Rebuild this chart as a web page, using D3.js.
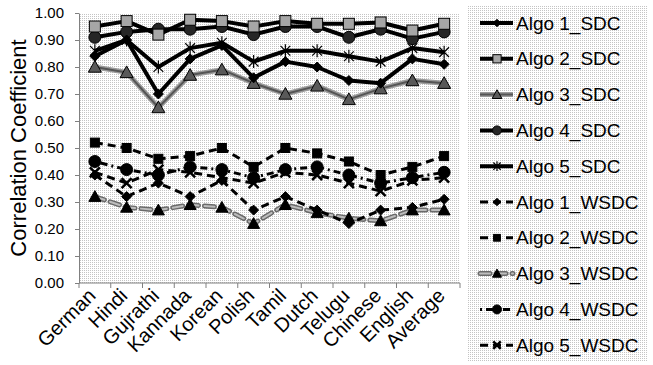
<!DOCTYPE html>
<html>
<head>
<meta charset="utf-8">
<script src="https://d3js.org/d3.v7.min.js"></script>
<style>
  body { margin: 0; background: #fff; }
  text { font-family: "Liberation Sans", Arial, sans-serif; }
</style>
</head>
<body>
<div id="chart"></div>
<script>
// categories and series values
var categories = ["German", "Hindi", "Gujrathi", "Kannada", "Korean", "Polish",
                  "Tamil", "Dutch", "Telugu", "Chinese", "English", "Average"];

var algo1SDC  = [0.84, 0.90, 0.70, 0.83, 0.88, 0.76, 0.82, 0.80, 0.75, 0.74, 0.83, 0.81];
var algo2SDC  = [0.95, 0.97, 0.92, 0.975, 0.97, 0.95, 0.97, 0.96, 0.96, 0.965, 0.935, 0.96];
var algo3SDC  = [0.80, 0.78, 0.65, 0.77, 0.79, 0.74, 0.70, 0.73, 0.68, 0.72, 0.75, 0.74];
var algo4SDC  = [0.91, 0.93, 0.94, 0.94, 0.95, 0.92, 0.95, 0.95, 0.91, 0.94, 0.905, 0.93];
var algo5SDC  = [0.86, 0.90, 0.80, 0.87, 0.89, 0.82, 0.86, 0.86, 0.84, 0.82, 0.87, 0.855];

var algo1WSDC = [0.40, 0.32, 0.37, 0.32, 0.38, 0.27, 0.32, 0.27, 0.22, 0.27, 0.28, 0.31];
var algo2WSDC = [0.52, 0.50, 0.46, 0.47, 0.50, 0.43, 0.50, 0.48, 0.45, 0.40, 0.43, 0.47];
var algo3WSDC = [0.32, 0.28, 0.27, 0.29, 0.28, 0.22, 0.29, 0.26, 0.24, 0.23, 0.27, 0.27];
var algo4WSDC = [0.45, 0.42, 0.40, 0.43, 0.42, 0.39, 0.42, 0.43, 0.40, 0.37, 0.39, 0.41];
var algo5WSDC = [0.41, 0.37, 0.42, 0.41, 0.39, 0.37, 0.41, 0.40, 0.37, 0.34, 0.38, 0.39];

var yTicks = [0, 0.1, 0.2, 0.3, 0.4, 0.5, 0.6, 0.7, 0.8, 0.9, 1.0];

// how each series is drawn
var series = [
  {name: "Algo 1_SDC",  values: algo1SDC,  line: "#000", width: 4, marker: "diamond", size: 10, fill: "#000"},
  {name: "Algo 2_SDC",  values: algo2SDC,  line: "#000", width: 4, marker: "square", size: 11, fill: "#a6a6a6"},
  {name: "Algo 3_SDC",  values: algo3SDC,  line: "#555", width: 2, under: "#9a9a9a", marker: "triangle", size: 13, fill: "#595959"},
  {name: "Algo 4_SDC",  values: algo4SDC,  line: "#000", width: 4, marker: "circle", size: 12, fill: "#262626"},
  {name: "Algo 5_SDC",  values: algo5SDC,  line: "#000", width: 4, marker: "star", size: 13, fill: "none"},
  {name: "Algo 1_WSDC", values: algo1WSDC, line: "#000", width: 3, dash: "8,5", marker: "diamond", size: 10, fill: "#000"},
  {name: "Algo 2_WSDC", values: algo2WSDC, line: "#000", width: 3, dash: "8,5", marker: "square", size: 9, fill: "#000"},
  {name: "Algo 3_WSDC", values: algo3WSDC, line: "#bdbdbd", width: 2, under: "#6a6a6a", dash: "10,6", marker: "triangle", size: 12, fill: "#000"},
  {name: "Algo 4_WSDC", values: algo4WSDC, line: "#000", width: 3, dash: "2,4,7,4", marker: "circle", size: 12, fill: "#000"},
  {name: "Algo 5_WSDC", values: algo5WSDC, line: "#000", width: 3, dash: "8,5", marker: "x", size: 10, fill: "none"}
];

var W = 653, H = 365;
var plot = {left: 79, right: 460, top: 13, bottom: 283};

var svg = d3.select("#chart").append("svg")
    .attr("width", W)
    .attr("height", H);

// dotted background like the original
var defs = svg.append("defs");
var pat = defs.append("pattern")
    .attr("id", "dots")
    .attr("width", 2).attr("height", 2)
    .attr("patternUnits", "userSpaceOnUse");
pat.append("rect").attr("width", 2).attr("height", 2).attr("fill", "#fff");
pat.append("rect").attr("width", 1).attr("height", 1).attr("fill", "#c4c4c4");

var x = d3.scaleBand()
    .domain(categories)
    .range([plot.left, plot.right]);

var y = d3.scaleLinear()
    .domain([0, 1])
    .range([plot.bottom, plot.top]);

svg.append("rect")
    .attr("x", plot.left).attr("y", plot.top)
    .attr("width", plot.right - plot.left)
    .attr("height", plot.bottom - plot.top)
    .attr("fill", "url(#dots)");

// Y axis
var yAxis = svg.append("g")
    .attr("transform", "translate(" + plot.left + ",0)")
    .call(d3.axisLeft(y).tickValues(yTicks).tickFormat(d3.format(".2f")).tickSize(4).tickSizeOuter(0));
yAxis.attr("font-family", null).attr("font-size", null);
yAxis.select(".domain").attr("stroke", "#808080");
yAxis.selectAll(".tick line").attr("stroke", "#808080");
yAxis.selectAll(".tick text")
    .attr("font-size", 15)
    .attr("fill", "#000")
    .attr("x", -15);

// X axis: ticks on band edges
var xAxis = svg.append("g")
    .attr("transform", "translate(0," + plot.bottom + ")");
xAxis.append("line")
    .attr("x1", plot.left).attr("x2", plot.right)
    .attr("stroke", "#808080");
xAxis.selectAll("line.tk")
    .data(categories.concat(["end"]))
    .enter().append("line")
    .attr("class", "tk")
    .attr("x1", function(d, i) { return plot.left + i * x.bandwidth(); })
    .attr("x2", function(d, i) { return plot.left + i * x.bandwidth(); })
    .attr("y1", 0).attr("y2", 5)
    .attr("stroke", "#808080");
xAxis.selectAll("text")
    .data(categories)
    .enter().append("text")
    .attr("transform", function(d) {
        return "translate(" + (x(d) + x.bandwidth() / 2 + 2) + ",14) rotate(-45)";
    })
    .attr("text-anchor", "end")
    .attr("font-size", 20)
    .text(function(d) { return d; });

// Y axis title
svg.append("text")
    .attr("transform", "translate(26," + ((plot.top + plot.bottom) / 2) + ") rotate(-90)")
    .attr("text-anchor", "middle")
    .attr("font-size", 22)
    .text("Correlation Coefficient");

// marker drawing
function drawMarker(g, s) {
    var r = s.size / 2;
    if (s.marker === "circle") {
        g.append("circle").attr("r", r).attr("fill", s.fill).attr("stroke", "#000").attr("stroke-width", 1);
    } else if (s.marker === "square") {
        g.append("rect").attr("x", -r).attr("y", -r).attr("width", s.size).attr("height", s.size)
            .attr("fill", s.fill).attr("stroke", "#000").attr("stroke-width", 1);
    } else if (s.marker === "diamond") {
        g.append("path").attr("d", "M0," + (-r) + "L" + r + ",0L0," + r + "L" + (-r) + ",0Z")
            .attr("fill", s.fill).attr("stroke", "#000").attr("stroke-width", 1);
    } else if (s.marker === "triangle") {
        g.append("path").attr("d", "M0," + (-r) + "L" + r + "," + (r * 0.8) + "L" + (-r) + "," + (r * 0.8) + "Z")
            .attr("fill", s.fill).attr("stroke", "#000").attr("stroke-width", 1);
    } else if (s.marker === "star") {
        var a = r * 0.75;
        g.append("path")
            .attr("d", "M0," + (-r) + "V" + r + "M" + (-a) + "," + (-a) + "L" + a + "," + a + "M" + (-a) + "," + a + "L" + a + "," + (-a))
            .attr("stroke", "#000").attr("stroke-width", 1.2).attr("fill", "none");
    } else if (s.marker === "x") {
        g.append("path")
            .attr("d", "M" + (-r) + "," + (-r) + "L" + r + "," + r + "M" + (-r) + "," + r + "L" + r + "," + (-r))
            .attr("stroke", "#000").attr("stroke-width", 2.5).attr("fill", "none");
    }
}

function strokeLine(sel, s) {
    sel.attr("fill", "none").attr("stroke-linejoin", "round");
    if (s.under) {
        sel.clone()
            .attr("stroke", s.under)
            .attr("stroke-width", s.width + 3)
            .attr("stroke-dasharray", s.dash || null)
            .attr("stroke-linecap", s.dash ? "round" : "butt")
            .lower();
    }
    sel.attr("stroke", s.line)
        .attr("stroke-width", s.width)
        .attr("stroke-dasharray", s.dash || null)
        .attr("stroke-linecap", s.under && s.dash ? "round" : "butt");
}

var line = d3.line()
    .x(function(d, i) { return x(categories[i]) + x.bandwidth() / 2; })
    .y(function(d) { return y(d); });

var marks = svg.append("g");
series.slice().reverse().forEach(function(s) {
    var g = marks.append("g");
    var ln = g.append("g");
    strokeLine(ln.append("path").attr("d", line(s.values)), s);
    g.selectAll("g.pt")
        .data(s.values)
        .enter().append("g")
        .attr("class", "pt")
        .attr("transform", function(d, i) {
            return "translate(" + (x(categories[i]) + x.bandwidth() / 2) + "," + y(d) + ")";
        })
        .each(function() { drawMarker(d3.select(this), s); });
});

// legend
var legend = svg.append("g");
legend.append("rect")
    .attr("x", 468).attr("y", 5)
    .attr("width", 179).attr("height", 356)
    .attr("fill", "url(#dots)");

var rows = legend.selectAll("g.row")
    .data(series)
    .enter().append("g")
    .attr("class", "row")
    .attr("transform", function(d, i) { return "translate(0," + (23 + i * 35.8) + ")"; });

rows.each(function(s) {
    var g = d3.select(this);
    var ln = g.append("g");
    strokeLine(ln.append("line").attr("x1", 480).attr("x2", 513), s);
    var m = g.append("g").attr("transform", "translate(497,0)");
    drawMarker(m, {marker: s.marker, size: s.size * 0.75, fill: s.fill});
    g.append("text")
        .attr("x", 516)
        .attr("dy", "0.35em")
        .attr("font-size", 19)
        .text(s.name);
});
</script>
</body>
</html>
